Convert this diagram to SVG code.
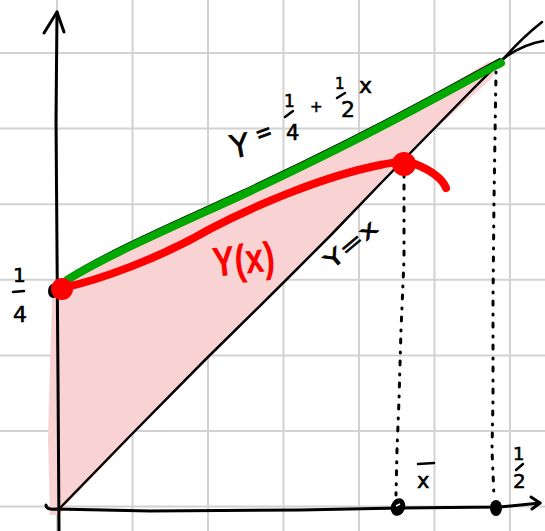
<svg xmlns="http://www.w3.org/2000/svg" width="545" height="531" viewBox="0 0 545 531">
<style>
.grid{stroke:#d2d2d2;stroke-width:2;fill:none}
.ink{stroke:#000;fill:none;stroke-linecap:round;stroke-linejoin:round}
.dots{stroke:#000;fill:none;stroke-width:3;stroke-linecap:round;stroke-dasharray:1 8 4 9}
.hw{font-family:"DejaVu Sans","Liberation Sans",sans-serif;fill:#000;stroke:#000;stroke-width:0.6}
.red{font-family:"Liberation Sans","DejaVu Sans",sans-serif;font-weight:bold;fill:#ff0000}
</style>
<rect width="545" height="531" fill="#fff"/>
<g id="grid">
<path class="grid" d="M57,0V531M132.5,0V531M208,0V531M283.5,0V531M359,0V531M434.5,0V531M510,0V531"/>
<path class="grid" d="M0,53H545M0,128.6H545M0,204.2H545M0,279.8H545M0,355.4H545M0,431H545M0,506.6H545"/>
</g>
<g id="region">
<path fill="#f9d3d3" d="M50,515 L48,440 L50,360 L52,300 L56,283 L70,274 L150,236 L250,188 L350,138 L420,103 L465,76 L488,62 L499,61 L492,78 L470,98 L440,125 L423,140 L382,182 L330,236 L283,282 L205,360 L132,436 L90,480 L66,505 L60,515 Z"/>
</g>
<g id="connectors">
<path id="y-axis" class="ink" stroke-width="3" d="M57,12 L56,120 L57,250 L58,380 L59,531"/>
<path class="ink" stroke-width="3" d="M44,33 L57,12 L64,32"/>
<path id="x-axis" class="ink" stroke-width="3" d="M46,505 Q46,510 56,509 L150,511 L300,510 L400,508 L500,507 L540,503"/>
<path class="ink" stroke-width="3" d="M531,497 L540,503 L532,509"/>
<path id="line-y-eq-x" class="ink" stroke-width="2.5" d="M59,509 L130,436 L205,360 L282,284 L330,236 L382,182 L423,140 L470,92 L507,55 Q522,38 542,22"/>
<path class="ink" stroke-width="2.5" d="M497,64 L507,56 Q525,44 543,41"/>
<path class="ink" stroke-width="2" d="M68,276 C110,250 170,224 240,192 C300,164 380,124 430,97 C460,81 485,67 500,59"/>
<path class="dots" d="M404,176 L404,260 L401,330 L399,400 L397,450 L396,495"/>
<path class="dots" d="M496,72 L494,200 L493,300 L493,400 L492,450 L494,497"/>
</g>
<g id="green-line">
<path fill="none" stroke="#00a800" stroke-width="8" stroke-linecap="round" stroke-linejoin="round" d="M67,280 C110,254 170,228 240,196 C300,168 380,128 430,101 C460,85 485,71 501,63"/>
</g>
<g id="red-curve">
<ellipse cx="53" cy="291" rx="5" ry="7" fill="#000"/>
<path fill="none" stroke="#ff0000" stroke-width="8" stroke-linecap="round" stroke-linejoin="round" d="M62,288 C100,280 160,258 210,229 C250,208 320,177 380,165 C395,162 405,160 415,164 C430,170 442,178 446,188"/>
<circle cx="62" cy="289" r="11" fill="#ff0000"/>
<circle cx="404" cy="164" r="12" fill="#ff0000"/>
</g>
<g id="points">
<ellipse cx="398" cy="507" rx="7" ry="9" fill="#000" transform="rotate(20 398 507)"/>
<path d="M396,506 L400,504" stroke="#fff" stroke-width="1.5"/>
<ellipse cx="496" cy="508" rx="6" ry="8" fill="#000"/>
</g>
<g id="labels">
<text class="hw" x="230" y="157" font-size="32" textLength="19" lengthAdjust="spacingAndGlyphs" transform="rotate(-10 240 145)">Y</text>
<text class="hw" x="255" y="141" font-size="26" textLength="17" lengthAdjust="spacingAndGlyphs" transform="rotate(-20 264 132)">=</text>
<text class="hw" x="284" y="107" font-size="17">1</text>
<path class="ink" stroke-width="2.5" d="M285,117 L293,111"/>
<text class="hw" x="286" y="140" font-size="21">4</text>
<text class="hw" x="310" y="112" font-size="15">+</text>
<text class="hw" x="335" y="89" font-size="15">1</text>
<path class="ink" stroke-width="2.5" d="M337,98 L345,93"/>
<text class="hw" x="341" y="117" font-size="22">2</text>
<text class="hw" x="359" y="93" font-size="22">x</text>
<text class="red" x="212" y="274" font-size="42" textLength="62" lengthAdjust="spacingAndGlyphs" transform="rotate(-6 242 255)">Y(x)</text>
<text class="hw" x="332" y="270" font-size="22" textLength="62" lengthAdjust="spacingAndGlyphs" transform="rotate(-40 332 270)">Y=x</text>
<text class="hw" x="13" y="282" font-size="20">1</text>
<path class="ink" stroke-width="2.5" d="M13,292 L24,291"/>
<text class="hw" x="13" y="322" font-size="22">4</text>
<text class="hw" x="417" y="488" font-size="21">x</text>
<path class="ink" stroke-width="2.5" d="M418,464 L434,463"/>
<text class="hw" x="513" y="460" font-size="18">1</text>
<path class="ink" stroke-width="2.5" d="M516,470 L523,464"/>
<text class="hw" x="513" y="488" font-size="20">2</text>
</g>
</svg>
